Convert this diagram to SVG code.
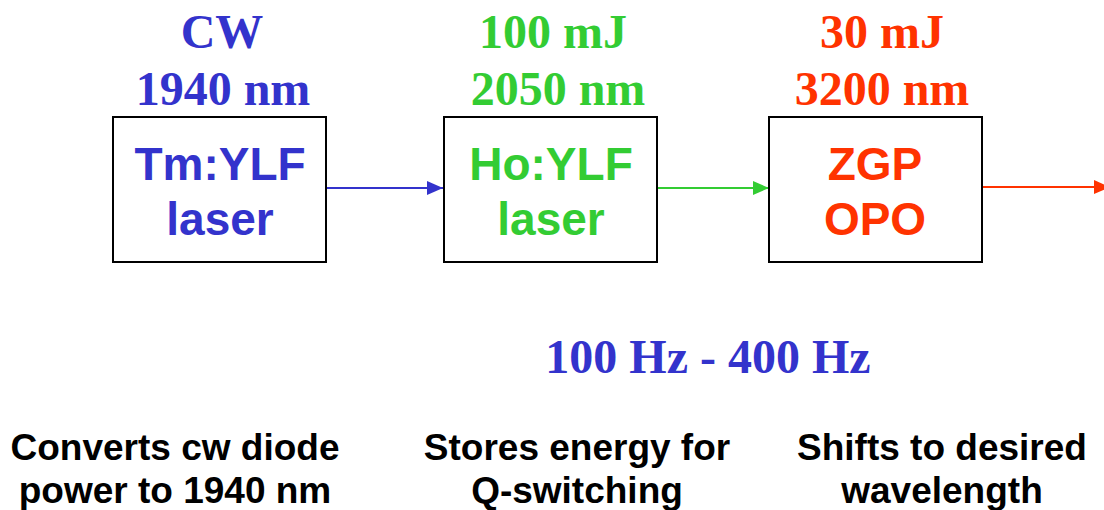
<svg xmlns="http://www.w3.org/2000/svg" width="1104" height="510" viewBox="0 0 1104 510">
<style>
.box{fill:#fff;stroke:#000;stroke-width:2}
.t{font-family:"Liberation Serif","Times New Roman",serif;font-weight:bold;font-size:48px;text-anchor:middle}
.s{font-family:"Liberation Sans",Arial,sans-serif;font-weight:bold;font-size:46px;text-anchor:middle}
.d{font-family:"Liberation Sans",Arial,sans-serif;font-weight:bold;font-size:37px;text-anchor:middle;fill:#000}
.blue{fill:#3333CC}.green{fill:#33CC33}.red{fill:#FF3300}
</style>
<defs>
<marker id="ab" markerWidth="16" markerHeight="14" refX="16" refY="7" orient="auto" markerUnits="userSpaceOnUse"><path d="M0,0 L16,7 L0,14 Z" fill="#3333CC"/></marker>
<marker id="ag" markerWidth="16" markerHeight="14" refX="16" refY="7" orient="auto" markerUnits="userSpaceOnUse"><path d="M0,0 L16,7 L0,14 Z" fill="#33CC33"/></marker>
<marker id="ar" markerWidth="16" markerHeight="14" refX="16" refY="7" orient="auto" markerUnits="userSpaceOnUse"><path d="M0,0 L16,7 L0,14 Z" fill="#FF3300"/></marker>
</defs>
<g id="connectors">
<line x1="327" y1="188" x2="443" y2="188" stroke="#3333CC" stroke-width="2" marker-end="url(#ab)"/>
<line x1="658" y1="188" x2="769" y2="188" stroke="#33CC33" stroke-width="2" marker-end="url(#ag)"/>
<line x1="982" y1="187" x2="1110" y2="187" stroke="#FF3300" stroke-width="2" marker-end="url(#ar)"/>
</g>
<g id="tm">
<text class="t blue" x="222" y="48">CW</text>
<text class="t blue" x="223" y="105">1940 nm</text>
<rect class="box" x="113" y="117" width="213" height="145"/>
<text class="s blue" x="220" y="180">Tm:YLF</text>
<text class="s blue" x="220" y="235">laser</text>
</g>
<g id="ho">
<text class="t green" x="553" y="48">100 mJ</text>
<text class="t green" x="558" y="105">2050 nm</text>
<rect class="box" x="444" y="117" width="213" height="145"/>
<text class="s green" x="551" y="180">Ho:YLF</text>
<text class="s green" x="551" y="235">laser</text>
</g>
<g id="zgp">
<text class="t red" x="882" y="48">30 mJ</text>
<text class="t red" x="882" y="105">3200 nm</text>
<rect class="box" x="769" y="117" width="213" height="145"/>
<text class="s red" x="875" y="180">ZGP</text>
<text class="s red" x="875" y="235">OPO</text>
</g>
<g id="rate">
<text class="t blue" x="708" y="373">100 Hz - 400 Hz</text>
</g>
<g id="desc">
<text class="d" x="175" y="460">Converts cw diode</text>
<text class="d" x="175" y="503">power to 1940 nm</text>
<text class="d" x="577" y="460">Stores energy for</text>
<text class="d" x="577" y="503">Q-switching</text>
<text class="d" x="942" y="460">Shifts to desired</text>
<text class="d" x="942" y="503">wavelength</text>
</g>
</svg>
